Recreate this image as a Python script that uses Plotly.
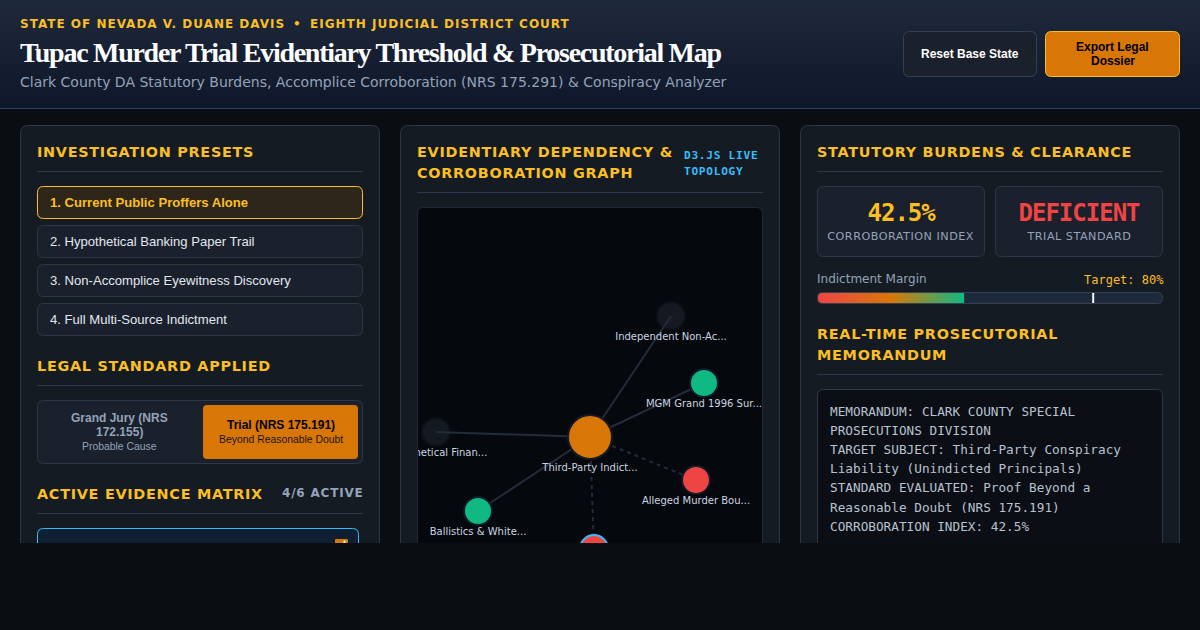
import json
import plotly.graph_objects as go

# Values
corroboration_index = 42.5
target_margin = 80
active_evidence = 4
total_evidence = 6

preset_names = ['1. Current Public Proffers Alone', '2. Hypothetical Banking Paper Trail',
                '3. Non-Accomplice Eyewitness Discovery', '4. Full Multi-Source Indictment']

memo_lines = ['MEMORANDUM: CLARK COUNTY SPECIAL', 'PROSECUTIONS DIVISION',
              'TARGET SUBJECT: Third-Party Conspiracy', 'Liability (Unindicted Principals)',
              'STANDARD EVALUATED: Proof Beyond a', 'Reasonable Doubt (NRS 175.191)',
              f'CORROBORATION INDEX: {corroboration_index}%']

# Graph nodes, first one is the hub
node_names = ['Third-Party Indict...', 'Independent Non-Ac...', 'MGM Grand 1996 Sur...', 'Hypothetical Finan...',
              'Alleged Murder Bou...', 'Ballistics & White...', '']
node_x = [590, 671, 704, 436, 696, 478, 594]
node_y = [437, 316, 383, 432, 480, 511, 549]
label_y = [468, 337, 404, 453, 501, 532, 570]
node_size = [44, 28, 28, 28, 28, 28, 28]
node_color = ['#d97706', '#151922', '#10b981', '#151922', '#ef4444', '#10b981', '#ef4444']
node_line = ['#131a28', '#0d1117', '#131a28', '#0d1117', '#131a28', '#131a28', '#38bdf8']
node_active = [True, False, True, False, True, True, True]
link_dashed = [False, False, False, True, False, True]

AMBER = '#fbbf24'
ORANGE = '#d97706'
PAGE = '#0a0d12'
PANEL = '#151b23'
CARD = '#1a202c'
BORDER = '#2d3748'
GRAY = '#94a3b8'
SANS = 'DejaVu Sans'
ARIAL = 'Liberation Sans'
MONO = 'DejaVu Sans Mono'

shapes = []
annotations = []
spacing = {}


def round_path(x0, y0, x1, y1, r):
    return (f'M{x0 + r},{y0} L{x1 - r},{y0} Q{x1},{y0} {x1},{y0 + r} L{x1},{y1 - r} Q{x1},{y1} {x1 - r},{y1} '
            f'L{x0 + r},{y1} Q{x0},{y1} {x0},{y1 - r} L{x0},{y0 + r} Q{x0},{y0} {x0 + r},{y0} Z')


def box(x0, y0, x1, y1, fill, line=None, r=6, width=1, layer='below'):
    shapes.append(dict(type='path', path=round_path(x0, y0, x1, y1, r), fillcolor=fill, layer=layer,
                       line=dict(color=line or fill, width=width if line else 0)))


def rule(x0, x1, y, color=BORDER):
    shapes.append(dict(type='line', x0=x0, x1=x1, y0=y, y1=y, layer='below', line=dict(color=color, width=1)))


def label(x, y, text, size, color, family=ARIAL, weight=400, anchor='left', ls=0):
    annotations.append(dict(x=x, y=y, text=text, xref='x', yref='y', showarrow=False, xanchor=anchor,
                            yanchor='middle', align=anchor, borderpad=0, borderwidth=0,
                            font=dict(size=size, color=color, family=family, weight=weight)))
    if ls:
        spacing[text] = ls


def heading(x, y, text):
    label(x, y, text, 14.4, AMBER, SANS, 700, ls=0.72)


# Header
shapes.append(dict(type='line', x0=0, x1=1200, y0=108.5, y1=108.5, layer='above', line=dict(color='#334155', width=1)))
label(20, 24, 'STATE OF NEVADA V. DUANE DAVIS', 12, AMBER, SANS, 700, ls=1)
label(293, 24, '•', 12, AMBER, SANS, 700)
label(310, 24, 'EIGHTH JUDICIAL DISTRICT COURT', 12, AMBER, SANS, 700, ls=1)
label(20, 52, 'Tupac Murder Trial Evidentiary Threshold &amp; Prosecutorial Map', 28, '#ffffff', 'Liberation Serif', 700, ls=-1.28)
label(20, 82, 'Clark County DA Statutory Burdens, Accomplice Corroboration (NRS 175.291) &amp; Conspiracy Analyzer', 14, GRAY, SANS)
box(903.5, 31.5, 1036.5, 76.5, CARD, '#334155', layer='above')
label(970, 54, 'Reset Base State', 12, '#ffffff', ARIAL, 700, 'center')
box(1045.5, 31.5, 1179.5, 76.5, ORANGE, AMBER, layer='above')
label(1112.5, 47, 'Export Legal', 12, '#000000', ARIAL, 700, 'center')
label(1112.5, 61, 'Dossier', 12, '#000000', ARIAL, 700, 'center')

# Three panels
for x0, x1 in [(20.5, 379.5), (400.5, 779.5), (800.5, 1179.5)]:
    box(x0, 125.5, x1, 600, PANEL, BORDER, r=8)

# Left panel
heading(37, 152, 'INVESTIGATION PRESETS')
rule(37, 363, 171.5)
for i, name in enumerate(preset_names):
    top = 186.5 + i * 39
    if i == 0:
        box(37.5, top, 362.5, top + 32, '#2e2719', AMBER)
        label(50, top + 16, name, 13.1, AMBER, ARIAL, 700)
    else:
        box(37.5, top, 362.5, top + 32, CARD, BORDER)
        label(50, top + 16, name, 13.1, '#e2e8f0', ARIAL)

heading(37, 366, 'LEGAL STANDARD APPLIED')
rule(37, 363, 385.5)
box(37.5, 400.5, 362.5, 463.5, CARD, BORDER)
box(203, 405, 358, 459, ORANGE, r=4)
label(119.5, 417.5, 'Grand Jury (NRS', 12, GRAY, ARIAL, 700, 'center')
label(119.5, 432, '172.155)', 12, GRAY, ARIAL, 700, 'center')
label(119.5, 446, 'Probable Cause', 10.4, GRAY, ARIAL, 400, 'center')
label(280.5, 424.5, 'Trial (NRS 175.191)', 12, '#000000', ARIAL, 700, 'center')
label(280.5, 439, 'Beyond Reasonable Doubt', 10.4, '#1a1206', ARIAL, 400, 'center')

heading(37, 494, 'ACTIVE EVIDENCE MATRIX')
label(282, 492.5, f'{active_evidence}/{total_evidence} ACTIVE', 12, GRAY, SANS, 700, ls=0.8)
rule(37, 363, 513.5)
box(37.5, 528.5, 358.5, 600, '#0f2035', '#38bdf8')
box(335, 539, 348, 560, ORANGE, r=1)
box(343.5, 540.5, 345.5, 545, '#ffffff', r=0.5)

# Centre panel
heading(417, 152, 'EVIDENTIARY DEPENDENCY &amp;')
heading(417, 173, 'CORROBORATION GRAPH')
label(684, 155.5, 'D3.JS LIVE', 11.2, '#38bdf8', MONO, 700, ls=0.7)
label(684, 171.5, 'TOPOLOGY', 11.2, '#38bdf8', MONO, 700, ls=0.7)
rule(417, 763, 192.5)
box(417.5, 207.5, 762.5, 600, '#05080c', '#1f2937')

# Right panel
heading(817, 152, 'STATUTORY BURDENS &amp; CLEARANCE')
rule(817, 1163, 171.5)
box(817.5, 186.5, 984.5, 256.5, CARD, BORDER)
box(995.5, 186.5, 1162.5, 256.5, CARD, BORDER)
label(901, 213, f'{corroboration_index}%', 24, AMBER, MONO, 700, 'center', ls=-1)
label(1079, 213, 'DEFICIENT', 24, '#ef4444', MONO, 700, 'center', ls=-1)
label(901, 236.5, 'CORROBORATION INDEX', 11.2, GRAY, SANS, anchor='center', ls=0.5)
label(1079, 236.5, 'TRIAL STANDARD', 11.2, GRAY, SANS, anchor='center', ls=0.5)
label(817, 279, 'Indictment Margin', 12, GRAY, SANS)
label(1084, 280, f'Target: {target_margin}%', 12, AMBER, MONO)
box(817.5, 292.5, 1162.5, 303.5, '#1e293b', r=5)
heading(817, 334, 'REAL-TIME PROSECUTORIAL')
heading(817, 355, 'MEMORANDUM')
rule(817, 1163, 374.5)
box(817.5, 389.5, 1162.5, 600, '#0b0e14', BORDER)
for i, line in enumerate(memo_lines):
    label(830, 411.5 + i * 19.1, line, 12.72, '#b8c2d0', MONO)

# Rounded frame over the margin bar, and the strip that cuts off the page content
shapes.append(dict(type='path', fillcolor=PANEL, layer='above', fillrule='evenodd', line=dict(width=0),
                   path='M816,291 L1164,291 L1164,305 L816,305 Z ' + round_path(817.5, 292.5, 1162.5, 303.5, 5)))
shapes.append(dict(type='path', fillcolor='rgba(0,0,0,0)', layer='above', line=dict(color='#334155', width=1),
                   path=round_path(817.5, 292.5, 1162.5, 303.5, 5)))
shapes.append(dict(type='rect', x0=0, x1=1200, y0=543, y1=630, fillcolor=PAGE, layer='above', line=dict(width=0)))

fig = go.Figure()

# Header gradient on the full-page axes
fig.add_trace(go.Scatter(x=[0, 1200, 1200, 0, 0], y=[0, 0, 108, 108, 0], mode='none', fill='toself',
                         fillgradient=dict(type='vertical', colorscale=[[0, '#0f172a'], [1, '#1e293b']]),
                         hoverinfo='skip'))

# Graph sits on its own axes so the box clips it. Dim nodes go under the links, lit ones above
dim = [i for i, on in enumerate(node_active) if not on]
lit = [i for i, on in enumerate(node_active) if on]
for group_index, group in enumerate([dim, lit]):
    fig.add_trace(go.Scatter(x=[node_x[i] for i in group], y=[node_y[i] for i in group], mode='markers',
                             xaxis='x3', yaxis='y3',
                             marker=dict(size=[node_size[i] for i in group], color=[node_color[i] for i in group],
                                         opacity=1, line=dict(color=[node_line[i] for i in group], width=2)),
                             hoverinfo='skip'))
    if group_index == 0:
        for i in range(1, len(node_x)):
            fig.add_trace(go.Scatter(x=[node_x[0], node_x[i]], y=[node_y[0], node_y[i]], mode='lines',
                                     xaxis='x3', yaxis='y3',
                                     line=dict(color='#232c3a', width=2, dash='4px,4px' if link_dashed[i - 1] else 'solid'),
                                     hoverinfo='skip'))

fig.add_trace(go.Scatter(x=node_x, y=label_y, mode='text', xaxis='x3', yaxis='y3',
                         text=node_names, textposition='middle center',
                         textfont=dict(size=10, color='#cbd5e1', family=SANS), hoverinfo='skip'))

# Margin bar on its own 0-100 axes
fig.add_trace(go.Scatter(x=[0, corroboration_index, corroboration_index, 0, 0], y=[0, 0, 1, 1, 0], xaxis='x2', yaxis='y2',
                         mode='none', fill='toself', hoverinfo='skip',
                         fillgradient=dict(type='horizontal', colorscale=[[0, '#ef4444'], [0.5, '#d97706'], [1, '#10b981']])))
fig.add_trace(go.Scatter(x=[target_margin, target_margin], y=[0, 1], xaxis='x2', yaxis='y2', mode='lines',
                         line=dict(color='#ffffff', width=2), hoverinfo='skip'))

fig.update_layout(
    width=1200, height=630, autosize=False, showlegend=False,
    margin=dict(l=0, r=0, t=0, b=0), paper_bgcolor=PAGE, plot_bgcolor='rgba(0,0,0,0)',
    xaxis=dict(range=[0, 1200], visible=False, domain=[0, 1], fixedrange=True),
    yaxis=dict(range=[630, 0], visible=False, domain=[0, 1], fixedrange=True),
    xaxis2=dict(range=[0, 100], visible=False, domain=[818 / 1200, 1162 / 1200], anchor='y2', fixedrange=True),
    yaxis2=dict(range=[0, 1], visible=False, domain=[1 - 303 / 630, 1 - 293 / 630], anchor='x2', fixedrange=True),
    xaxis3=dict(range=[418, 762], visible=False, domain=[418 / 1200, 762 / 1200], anchor='y3', fixedrange=True),
    yaxis3=dict(range=[543, 208], visible=False, domain=[1 - 543 / 630, 1 - 208 / 630], anchor='x3', fixedrange=True),
    shapes=shapes, annotations=annotations)

# Plotly has no letter-spacing option, so it goes on after drawing
post = """
document.body.style.margin = '0';
document.body.style.overflow = 'hidden';
document.body.style.background = '%s';
var gaps = %s;
var gd = document.getElementById('{plot_id}');
function applyGaps() {
  gd.querySelectorAll('.annotation-text').forEach(function (t) {
    var gap = gaps[t.textContent];
    if (gap) { t.style.letterSpacing = gap + 'px'; }
  });
}
applyGaps();
gd.on('plotly_afterplot', applyGaps);
""" % (PAGE, json.dumps({k.replace('&amp;', '&'): v for k, v in spacing.items()}))

fig.write_html("out.html", config={'displayModeBar': False, 'staticPlot': True}, post_script=post)
